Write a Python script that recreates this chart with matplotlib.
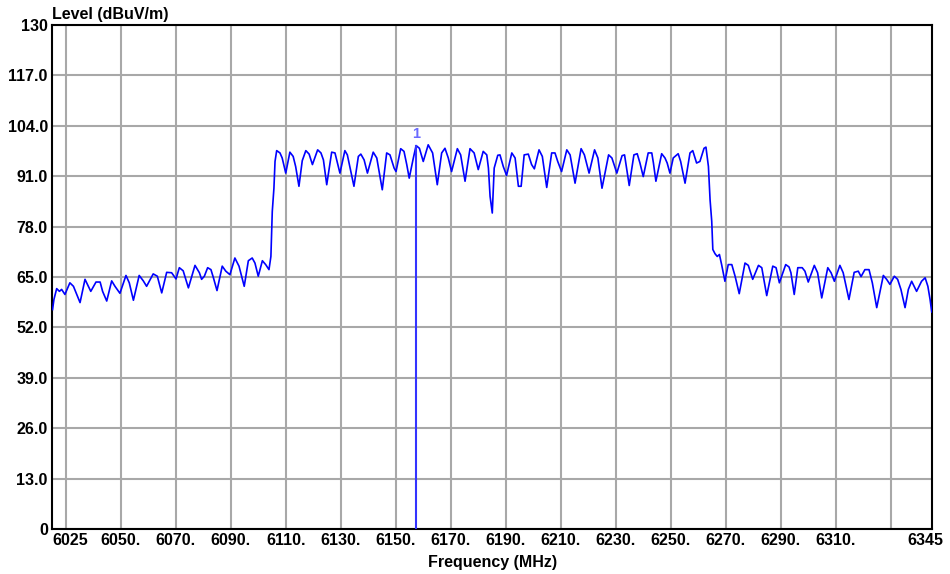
import matplotlib
matplotlib.use("Agg")
import matplotlib.pyplot as plt

plt.rcParams['font.family'] = ['Liberation Sans', 'DejaVu Sans']

# trace (MHz, dBuV/m)
freq = [6025.2, 6025.7, 6026.7, 6027.7, 6028.5, 6029.7, 6031.5, 6032.8, 6035.2, 6037.0,
        6038.2, 6039.1, 6041.0, 6042.5, 6043.4, 6044.9, 6046.7, 6047.9, 6049.7, 6051.9,
        6053.1, 6054.6, 6056.7, 6058.2, 6059.4, 6061.8, 6063.3, 6064.9, 6066.7, 6068.5,
        6070.1, 6071.3, 6072.7, 6074.6, 6077.0, 6078.6, 6079.4, 6080.4, 6081.6, 6082.8,
        6083.7, 6085.0, 6086.9, 6088.2, 6089.7, 6091.5, 6093.0, 6094.9, 6096.4, 6097.8,
        6098.8, 6100.0, 6101.5, 6102.7, 6103.9, 6104.6, 6105.1, 6105.7, 6106.1, 6106.7,
        6107.9, 6108.7, 6110.0, 6111.5, 6112.7, 6113.6, 6114.8, 6116.0, 6117.3, 6118.5,
        6119.7, 6121.6, 6122.8, 6123.7, 6124.9, 6126.7, 6127.9, 6129.7, 6131.5, 6132.4,
        6133.4, 6134.8, 6136.4, 6137.3, 6138.5, 6139.7, 6141.8, 6143.1, 6145.1, 6146.7,
        6147.9, 6149.4, 6150.1, 6151.8, 6153.0, 6154.0, 6154.9, 6156.4, 6157.4, 6158.6,
        6160.0, 6161.8, 6163.4, 6165.1, 6166.7, 6167.9, 6169.1, 6170.3, 6172.4, 6173.6,
        6175.2, 6177.0, 6178.5, 6180.0, 6181.8, 6183.1, 6183.7, 6184.3, 6185.1, 6185.8,
        6187.1, 6187.9, 6189.1, 6190.3, 6192.2, 6193.4, 6194.6, 6195.6, 6196.7, 6198.2,
        6199.4, 6200.4, 6202.1, 6203.3, 6204.9, 6206.7, 6207.9, 6208.9, 6210.3, 6212.2,
        6213.4, 6215.2, 6217.4, 6218.6, 6220.3, 6222.3, 6223.5, 6225.0, 6227.4, 6228.6,
        6230.4, 6232.3, 6233.2, 6234.9, 6236.6, 6237.8, 6238.8, 6240.0, 6241.8, 6243.1,
        6243.7, 6244.6, 6246.7, 6247.9, 6248.7, 6249.7, 6250.9, 6252.7, 6253.6, 6255.2,
        6257.0, 6258.0, 6259.4, 6260.6, 6262.1, 6262.8, 6263.7, 6264.3, 6264.9, 6265.3,
        6266.1, 6266.9, 6267.7, 6268.5, 6269.7, 6270.9, 6272.2, 6273.4, 6274.9, 6277.0,
        6278.2, 6279.8, 6281.9, 6283.1, 6284.9, 6287.1, 6288.3, 6289.5, 6291.8, 6293.0,
        6293.7, 6294.9, 6296.2, 6297.8, 6298.8, 6300.0, 6302.2, 6303.4, 6304.9, 6307.1,
        6308.3, 6309.5, 6311.5, 6312.7, 6314.8, 6316.7, 6318.2, 6319.2, 6320.6, 6322.1,
        6323.3, 6324.9, 6327.3, 6328.5, 6329.7, 6331.3, 6332.5, 6333.7, 6335.2, 6336.4,
        6337.6, 6339.4, 6341.2, 6342.5, 6343.5, 6344.3, 6344.9]
level = [56.6, 59.2, 62.0, 61.3, 61.8, 60.5, 63.5, 62.6, 58.4, 64.4,
         62.6, 61.3, 63.7, 63.7, 61.3, 58.8, 64.0, 62.6, 60.8, 65.4,
         63.5, 59.0, 65.4, 64.0, 62.6, 65.8, 65.2, 60.9, 66.2, 66.1,
         64.5, 67.4, 66.6, 62.2, 68.0, 66.1, 64.4, 65.2, 67.4, 66.9,
         64.8, 61.5, 67.8, 66.5, 65.6, 69.9, 67.8, 62.6, 69.2, 69.9,
         68.6, 65.2, 69.2, 68.2, 66.9, 70.3, 81.9, 87.9, 94.8, 97.6,
         97.0, 95.7, 91.8, 97.2, 96.1, 93.5, 88.4, 95.0, 97.6, 96.7,
         94.0, 97.8, 97.0, 95.2, 88.8, 97.2, 97.0, 91.8, 97.6, 96.5,
         93.1, 88.4, 96.1, 96.7, 95.2, 91.8, 97.2, 95.7, 87.5, 97.0,
         96.5, 93.1, 92.2, 98.1, 97.4, 94.0, 90.5, 95.7, 98.9, 98.2,
         94.8, 99.1, 97.0, 88.8, 97.0, 98.2, 95.7, 92.2, 98.1, 96.5,
         89.7, 98.1, 97.0, 92.7, 97.4, 96.5, 93.1, 85.8, 81.5, 93.1,
         96.4, 96.5, 93.5, 91.2, 97.0, 95.7, 88.4, 88.4, 96.5, 96.7,
         94.0, 92.9, 97.8, 96.1, 88.1, 97.0, 97.0, 94.8, 92.2, 97.8,
         96.5, 89.2, 98.1, 96.5, 91.8, 97.8, 95.7, 87.9, 96.5, 95.7,
         91.8, 96.3, 96.5, 88.6, 96.5, 96.8, 94.4, 90.9, 97.0, 97.0,
         94.4, 89.7, 96.8, 95.7, 94.4, 91.8, 95.7, 96.8, 94.8, 89.2,
         97.0, 97.6, 94.4, 94.8, 98.2, 98.5, 93.5, 84.9, 79.4, 72.1,
         71.0, 70.3, 70.8, 68.2, 63.9, 68.2, 68.2, 65.2, 60.7, 68.6,
         68.0, 64.4, 68.0, 67.4, 60.2, 67.8, 67.4, 63.5, 68.2, 67.6,
         66.1, 60.5, 67.4, 67.4, 66.5, 63.7, 68.0, 66.1, 59.6, 67.4,
         66.1, 63.9, 68.0, 66.1, 59.2, 66.2, 66.5, 65.1, 66.9, 66.9,
         63.5, 57.1, 65.4, 64.4, 63.1, 65.2, 64.4, 61.8, 57.1, 61.8,
         63.9, 61.3, 63.9, 64.8, 62.6, 59.2, 56.0]

x_grid = [6030, 6050, 6070, 6090, 6110, 6130, 6150, 6170, 6190, 6210,
          6230, 6250, 6270, 6290, 6310, 6330]
x_labels = ['', '6050.', '6070.', '6090.', '6110.', '6130.', '6150.', '6170.', '6190.',
            '6210.', '6230.', '6250.', '6270.', '6290.', '6310.', '']
y_grid = [0, 13, 26, 39, 52, 65, 78, 91, 104, 117, 130]
y_labels = ['0', '13.0', '26.0', '39.0', '52.0', '65.0', '78.0', '91.0', '104.0', '117.0', '130']

marker_freq = 6157.4
marker_level = 98.9

fig = plt.figure(figsize=(9.5, 5.74), dpi=100)
ax = fig.add_axes([52/950, 1-529/574, 880/950, 504/574])

ax.plot(freq, level, color='#0000ff', lw=1.2, zorder=3)
ax.plot([marker_freq, marker_freq], [0, marker_level], color='#3333ff', lw=1.5, zorder=3)
ax.text(marker_freq, marker_level + 3.0, '1', color='#6a6aff', fontsize=10.5,
        fontweight='bold', ha='center', va='center')

ax.set_xlim(6025, 6345)
ax.set_ylim(0, 130)
ax.set_xticks(x_grid)
ax.set_xticklabels(x_labels)
ax.set_yticks(y_grid)
ax.set_yticklabels(y_labels)
ax.tick_params(length=0, labelsize=11.5, pad=3)
for t in ax.get_xticklabels() + ax.get_yticklabels():
    t.set_fontweight('bold')
ax.grid(True, color='#a8a8a8', lw=1.5)
ax.set_axisbelow(True)
for s in ax.spines.values():
    s.set_color('black')
    s.set_linewidth(1.5)

# end labels of the frequency axis
ax.text(6025, -1.1, '6025', fontsize=11.5, fontweight='bold', ha='left', va='top')
ax.text(6349, -1.1, '6345', fontsize=11.5, fontweight='bold', ha='right', va='top')

fig.text(52/950, 1-15/574, 'Level (dBuV/m)', fontsize=11.5, fontweight='bold',
         ha='left', va='center')
fig.text(493/950, 1-562/574, 'Frequency (MHz)', fontsize=11.5, fontweight='bold',
         ha='center', va='center')

fig.savefig('out.png', dpi=100)
